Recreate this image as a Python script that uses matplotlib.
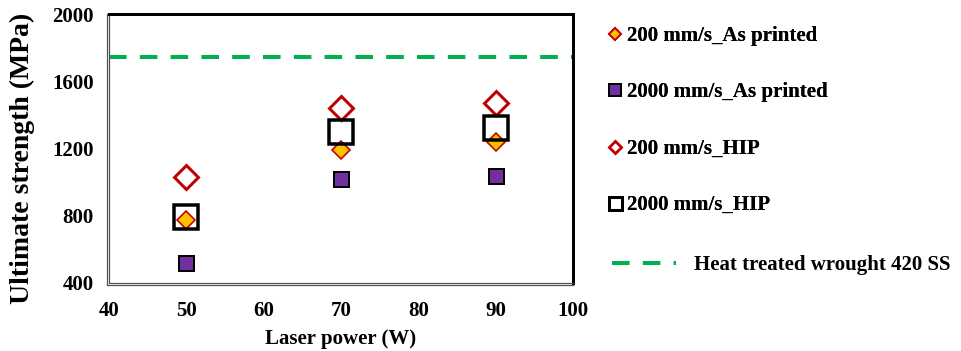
import matplotlib
matplotlib.use("Agg")
import matplotlib.pyplot as plt
from matplotlib.lines import Line2D
from matplotlib import transforms

plt.rcParams["font.family"] = ["Liberation Serif", "DejaVu Serif"]
plt.rcParams["font.weight"] = "bold"

# Laser power (W) and ultimate tensile strength (MPa)
laser_power = [50, 70, 90]
uts_200_as_printed = [775, 1190, 1240]
uts_2000_as_printed = [517, 1020, 1036]
uts_200_hip = [1032, 1443, 1469]
uts_2000_hip = [795, 1296, 1324]
wrought_420_ss = 1745

labels = ["200 mm/s_As printed", "2000 mm/s_As printed", "200 mm/s_HIP",
          "2000 mm/s_HIP", "Heat treated wrought 420 SS"]

RED = "#C00000"
ORANGE = "#FFC000"
PURPLE = "#7030A0"
GREEN = "#00B050"
px = 0.72  # points per pixel at 100 dpi
FS = 15

fig = plt.figure(figsize=(9.61, 3.51), dpi=100)
ax = fig.add_axes([109 / 961, 1 - 283 / 351, (573 - 109) / 961, (283 - 14) / 351])

ax.axhline(wrought_420_ss, color=GREEN, lw=4 * px, dashes=(4.4, 3.3), zorder=1)

ax.plot(laser_power, uts_200_hip, ls="none", marker="D", ms=16.3 * px, mfc="white",
        mec=RED, mew=3 * px, zorder=3)
ax.plot(laser_power, uts_2000_hip, ls="none", marker="s", ms=23.5 * px, mfc="none",
        mec="black", mew=3.5 * px, zorder=5)
ax.plot(laser_power, uts_200_as_printed, ls="none", marker="D", ms=12.5 * px, mfc=ORANGE,
        mec=RED, mew=1.6 * px, zorder=4)
ax.plot(laser_power, uts_2000_as_printed, ls="none", marker="s", ms=15 * px, mfc=PURPLE,
        mec="black", mew=2 * px, zorder=4)

ax.set_xlim(40, 100)
ax.set_ylim(400, 2000)
ax.set_xticks([40, 50, 60, 70, 80, 90, 100])
ax.set_yticks([400, 800, 1200, 1600, 2000])
ax.tick_params(length=0, labelsize=FS)
ax.tick_params(axis="x", pad=13)
ax.tick_params(axis="y", pad=11)
for lab in ax.get_xticklabels() + ax.get_yticklabels():
    lab.set_fontweight("bold")

ax.set_xlabel("Laser power (W)", fontsize=FS, fontweight="bold", labelpad=6)
ax.set_ylabel("Ultimate strength (MPa)", fontsize=20, fontweight="bold")
ax.yaxis.set_label_coords((35 - 109) / 464, (283 - 158.5) / 269)

# Frame: heavy black on top/right, thin double grey rule on left/bottom
for side in ("top", "right"):
    ax.spines[side].set_linewidth(3 * px)
    ax.spines[side].set_color("black")
for side in ("left", "bottom"):
    ax.spines[side].set_linewidth(1.2 * px)
    ax.spines[side].set_color("#505050")
off_left = transforms.offset_copy(ax.transAxes, fig=fig, x=-2, y=0, units="dots")
off_bottom = transforms.offset_copy(ax.transAxes, fig=fig, x=0, y=-2, units="dots")
ax.add_line(Line2D([0, 0], [-0.008, 1], transform=off_left, color="#505050",
                   lw=1.2 * px, clip_on=False))
ax.add_line(Line2D([-0.005, 1], [0, 0], transform=off_bottom, color="#505050",
                   lw=1.2 * px, clip_on=False))

# Legend
h1 = Line2D([], [], ls="none", marker="D", ms=8.5 * px, mfc=ORANGE, mec=RED, mew=1.8 * px)
h2 = Line2D([], [], ls="none", marker="s", ms=12 * px, mfc=PURPLE, mec="black", mew=2 * px)
h3 = Line2D([], [], ls="none", marker="D", ms=9 * px, mfc="white", mec=RED, mew=2.6 * px)
h4 = Line2D([], [], ls="none", marker="s", ms=13 * px, mfc="white", mec="black", mew=3 * px)
h5 = Line2D([], [], color=GREEN, lw=4 * px, dashes=(4.4, 3.3))

leg1 = fig.legend([h1, h2, h3, h4], labels[:4], loc="upper left",
                  bbox_to_anchor=(607 / 961, 1 - 26 / 351), frameon=False,
                  prop={"size": FS, "weight": "bold"}, handlelength=0.8,
                  handletextpad=0.15, borderpad=0, borderaxespad=0,
                  labelspacing=1.75)
fig.add_artist(leg1)
leg2 = fig.legend([h5], labels[4:], loc="upper left",
                  bbox_to_anchor=(612 / 961, 1 - 255 / 351), frameon=False,
                  prop={"size": FS, "weight": "bold"}, handlelength=3.07,
                  handletextpad=0.86, borderpad=0, borderaxespad=0)

fig.savefig("out.png", dpi=100)
